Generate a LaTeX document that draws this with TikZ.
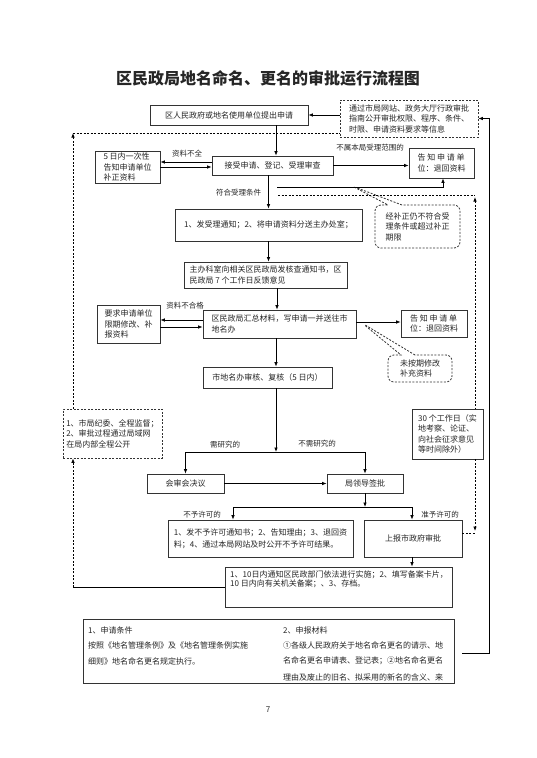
\documentclass[tikz,border=0pt]{standalone}
\usepackage{fontspec}
\setmainfont{Noto Sans CJK SC}
\usetikzlibrary{arrows.meta,shapes.callouts}
\begin{document}
\begin{tikzpicture}[x=1pt,y=-1pt,
  every node/.style={font=\fontsize{8}{10.5}\selectfont, inner sep=0pt, text=black!85},
  sz/.style 2 args={minimum width=#1pt, minimum height=#2pt},
  box/.style={draw=black!80, line width=0.8pt, align=left, fill=white},
  dbox/.style={box, dash pattern=on 2pt off 1.5pt},
  lbl/.style={font=\fontsize{7.5}{9}\selectfont},
  tip/.style={-{Latex[length=4.5pt,width=3.6pt]}},
  arr/.style={tip, line width=0.8pt},
  ln/.style={line width=0.8pt},
  dln/.style={line width=0.8pt, dash pattern=on 2pt off 1.5pt},
  cal/.style={rectangle callout, draw=black!80, line width=0.8pt, dash pattern=on 2pt off 1.5pt, rounded corners=6pt, align=left, callout pointer width=14pt}
]
\useasboundingbox[fill=white] (0,0) rectangle (536,758);

% title
\node[font=\fontsize{16}{16}\selectfont\bfseries] (title) at (268,78) {区民政局地名命名、更名的审批运行流程图};

% boxes
\node[box, sz={158}{20}] (n1) at (229,115) {区人民政府或地名使用单位提出申请};
\node[dbox, sz={138}{37}] (info) at (409,118.5) {通过市局网站、政务大厅行政审批\\指南公开审批权限、程序、条件、\\时限、申请资料要求等信息};
\node[box, sz={121}{19}] (n2) at (272.5,165.5) {接受申请、登记、受理审查};
\node[box, sz={65}{32}] (n5d) at (127.5,167) {5 日内一次性\\告知申请单位\\补正资料};
\node[box, sz={65}{30}] (ret1) at (441.5,163) {告 知 申 请 单\\位：退回资料};
\node[cal, sz={85}{43}, callout absolute pointer={(352,186)}] (cal1) at (417.5,226.5) {经补正仍不符合受\\理条件或超过补正\\期限};
\node[box, sz={187}{32}] (n3) at (268.5,225) {1、发受理通知；2、将申请资料分送主办处室；};
\node[box, sz={163}{26}] (n4) at (265.5,275) {主办科室向相关区民政局发核查通知书，区\\民政局 7 个工作日反馈意见};
\node[box, sz={153}{28}] (n5) at (279.5,324) {区民政局汇总材料，写申请一并送往市\\地名办};
\node[box, sz={63}{38}] (nreq) at (128.5,324) {要求申请单位\\限期修改、补\\报资料};
\node[box, sz={66}{27}] (ret2) at (434,323.5) {告 知 申 请 单\\位：退回资料};
\node[cal, sz={64}{27}, callout absolute pointer={(362,323)}] (cal2) at (420,368.5) {未按期修改\\补充资料};
\node[box, sz={129}{21}] (n6) at (267.5,377.5) {市地名办审核、复核（5 日内）};
\node[dbox, sz={99}{49}] (sup) at (112.5,433.5) {1、市局纪委、全程监督；\\2、审批过程通过局域网\\在局内部全程公开};
\node[box, sz={71}{50}] (days30) at (447.5,434) {30 个工作日（实\\地考察、论证、\\向社会征求意见\\等时间除外）};
\node[box, sz={77}{19}] (n7) at (185.5,483.5) {会审会决议};
\node[box, sz={76}{19}] (n8) at (365,483.5) {局领导签批};
\node[box, sz={185}{37}, font=\fontsize{8}{12}\selectfont] (n9) at (260.5,538.5) {1、发不予许可通知书；2、告知理由；3、退回资\\料；4、通过本局网站及时公开不予许可结果。};
\node[box, sz={98}{37}] (n10) at (413,538.5) {上报市政府审批};
\node[box, sz={227}{40}] (n11) at (338.5,587) {};
\node[anchor=north west, align=left, font=\fontsize{8}{9.5}\selectfont] (n11t) at (230,570.5) {1、10日内通知区民政部门依法进行实施；2、填写备案卡片，\\10 日内向有关机关备案；、3、存档。};

% notes box
\node[box, sz={371}{64}] (notes) at (268.5,651) {};
\node[anchor=west] (nl1) at (88,630) {1、申请条件};
\node[anchor=west] (nl2) at (88,645) {按照《地名管理条例》及《地名管理条例实施};
\node[anchor=west] (nl3) at (88,661) {细则》地名命名更名规定执行。};
\node[anchor=west] (nr1) at (283,630) {2、申报材料};
\node[anchor=west] (nr2) at (283,645) {①各级人民政府关于地名命名更名的请示、地};
\node[anchor=west] (nr3) at (283,661) {名命名更名申请表、登记表；②地名命名更名};
\node[anchor=west] (nr4) at (283,677) {理由及废止的旧名、拟采用的新名的含义、来};
\node (page) at (268,710) {7};

% labels
\node[lbl] (l1) at (187,154) {资料不全};
\node[lbl] (l2) at (370,148) {不属本局受理范围的};
\node[lbl] (l3) at (238.5,193) {符合受理条件};
\node[lbl] (l4) at (185,306) {资料不合格};
\node[lbl] (l5) at (225,445) {需研究的};
\node[lbl] (l6) at (317,444) {不需研究的};
\node[lbl] (l7) at (202,515) {不予许可的};
\node[lbl] (l8) at (440,515) {准予许可的};

% coordinates
\coordinate (v1) at (276,125);
\coordinate (v2) at (277,288);
\coordinate (v3) at (276,338);
\coordinate (lb) at (73,587);
\coordinate (lt) at (73,133);
\coordinate (rb) at (462,653);
\coordinate (rbc) at (489,653);
\coordinate (rtc) at (489,118.5);
\coordinate (s1) at (277,187);
\coordinate (s1r) at (443,187);
\coordinate (d1) at (278,195);
\coordinate (t30) at (475,195);
\coordinate (b30) at (475,533);
\coordinate (split1) at (276,452);
\coordinate (split2) at (364,507);
\coordinate (j9) at (233,507);
\coordinate (j10) at (412,507);

% connectors
\draw[arr] (n1.east -| info.west) -- (n1.east);
\draw[arr] (v1) -- (v1 |- n2.north);
\draw[arr] ([yshift=3.5pt]n2.west) -- ([yshift=3.5pt]n2.west -| n5d.east);
\draw[arr] (n5d.east) -- (n5d.east -| n2.west);
\draw[arr] (n2.east) -- (n2.east -| ret1.west);
\draw[arr] (n3.north |- n2.south) -- (n3.north);
\draw[arr] (s1) -- (s1r) -- (s1r |- ret1.south);
\draw[dln] (d1) -- (t30);
\draw[dln, {Latex[length=4.5pt,width=3.6pt]}-] ([yshift=-2pt]t30) -- (days30.north -| t30);
\draw[dln, tip] (days30.south -| t30) -- ([yshift=2pt]b30);
\draw[dln] ([yshift=5.5pt]n10.east) -- (b30);
\draw[arr] (n3.south) -- (n3.south |- n4.north);
\draw[arr] (v2) -- (v2 |- n5.north);
\draw[arr] ([yshift=4pt]n5.west) -- ([yshift=4pt]n5.west -| nreq.east);
\draw[arr] ([yshift=-3pt]nreq.east) -- ([yshift=-3pt]nreq.east -| n5.west);
\draw[arr] ([yshift=2pt]n5.east) -- ([yshift=2pt]n5.east -| ret2.west);
\draw[arr] (v3) -- (v3 |- n6.north);
\draw[arr] (split1 |- n6.south) -- (split1);
\draw[arr] (split1) -| (n7.north);
\draw[arr] (split1) -| (n8.north);
\draw[arr] (n7.east) -- (n8.west);
\draw[arr] (n8.south) -- (n8.south |- split2);
\draw[ln] (j9) -- (j10);
\draw[arr] (j9) -- (j9 |- n9.north);
\draw[arr] (j10) -- (j10 |- n10.north);
\draw[arr] (n10.south -| j10) -- (j10 |- n11.north);
\draw[ln] (n11.west) -- (lb);
\draw[dln, tip] (lb) -- (sup.south -| lb);
\draw[dln, tip] (sup.north -| lt) -- (lt);
\draw[dln] (lt) -- (lt -| info.west);
\draw[arr] (rb) -- (rbc) -- (rtc) -- (info.east);
\end{tikzpicture}
\end{document}
